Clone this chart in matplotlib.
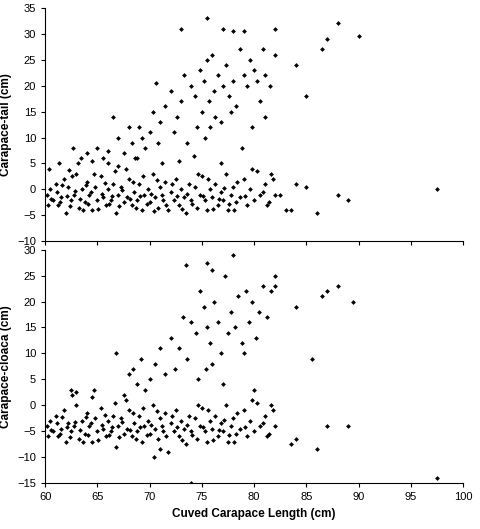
import matplotlib
matplotlib.use("Agg")
import matplotlib.pyplot as plt

plt.rcParams['font.family'] = ['Liberation Sans', 'DejaVu Sans']

# Top panel: Carapace-tail
tail_x = [60.2,60.5,60.8,61,61.2,61.5,61.8,62,62.2,62.5,62.8,63,63.2,63.5,63.8,64,64.2,64.5,64.8,65,65.3,65.5,65.8,66,66.3,66.5,66.8,67,67.3,67.5,67.8,68,68.3,68.5,68.8,69,69.3,69.5,69.8,70,70.3,70.5,70.8,71,71.3,71.5,71.8,72,72.3,72.5,72.8,73,73.3,73.5,73.8,74,74.3,74.5,74.8,75,75.3,75.5,75.8,76,76.3,76.5,76.8,77,77.3,77.5,77.8,78,78.3,78.6,79,79.3,79.6,80,80.3,80.6,81,81.4,81.8,82,
          60.3,60.6,61.1,61.4,61.6,62.1,62.4,62.6,62.9,63.3,63.6,63.9,64.1,64.4,64.7,65.1,65.4,65.7,66.1,66.4,66.7,67.1,67.4,67.7,68.1,68.4,68.7,69.1,69.4,69.7,70.1,70.4,70.7,71.2,71.6,72.1,72.6,73.1,73.6,74.1,74.6,75.1,75.6,76.1,76.6,77.1,77.6,78.1,78.4,79.1,79.8,80.8,81.2,81.6,60.4,61.3,63.4,62.3,
          62.7,63.1,64,64.5,65,65.5,66,66.5,67,67.5,68,68.3,68.6,69,69.3,69.6,70,70.3,70.6,70.8,71,71.5,72,72.3,72.6,73,73.3,73.6,74,74.3,74.5,74.8,75,75.2,75.5,75.7,76,76.2,76.5,76.8,77,77.3,77.6,78,78.3,78.6,79,79.3,79.6,80,80.3,80.6,81,81.5,82,75.3,75.8,76.3,77.8,79.8,80.8,81,66,67,68.8,71.2,72.8,74.2,76.8,78.8,
          75.5,73,77,78,79,82,88,87,90,86.5,84,85,97.5,89,88,86,83,83.5,84,85,82.5]
tail_y = [-1,0,-2,1,-3,-1.5,2,-4.5,0.5,-2,-1,3,-3.5,0,-2.5,1.5,-1,-4,0.5,-2,2.5,-1.5,-3,0,-2,1,-4.5,-1,0.5,-2.5,-1.5,2,-3,-0.5,-2,1,-4,-1,0,-2.5,3,-1.5,-3.5,0.5,-2,1.5,-4,-0.5,-2,2,-3,0,-1.5,-4.5,1,-2,0.5,-3.5,-1,2.5,-2,-4,0,-1.5,1,-3,-0.5,-2,3,-4,-1,0.5,-2.5,-1.5,2,-3,0,-2,3.5,-1,1,-2.5,2,-1,
          -3,-1.8,-0.5,-2.5,0.8,-1.2,-3.2,2.5,-0.3,-1.8,-4,0.8,-2.8,-0.5,3,-3.8,-0.8,1.2,-2.8,-1.2,3.5,-3.2,-0.2,4,-1.8,1.5,-3.5,-1.2,2.5,-2.8,-0.8,-4.2,1.8,-1,-3,1,-1.2,-3.8,-0.8,-2.8,3,-1.2,2,-3.8,-1.8,0.2,-2.8,-4,1.5,-1.2,4,-0.5,-3,3,4,5,6,3.8,
          8,5,7,5.5,8,6,7.5,14,10,7,12,9,6,12,10,8,11,15,20.5,9,13,16,19,11,14,17,22,9,20,18,12,23,15,21,25,17,26,19,22,13,20,24,18,21,16,27,22,20,25,23,21,17,22,20,26,10,12,14,15,12,27,14,5,4.5,6,5,5.5,6.5,5,8,
          33,31,31,30.5,30.5,31,32,29,29.5,27,24,18,0,-2,-1,-4.5,-4,-4,1,0.5,-1]

# Bottom panel: Carapace-cloaca
cloaca_x = [60.2,60.5,60.8,61,61.2,61.5,61.8,62,62.2,62.5,62.8,63,63.2,63.5,63.8,64,64.2,64.5,64.8,65,65.3,65.5,65.8,66,66.3,66.5,66.8,67,67.3,67.5,67.8,68,68.3,68.5,68.8,69,69.3,69.5,69.8,70,70.3,70.5,70.8,71,71.3,71.5,71.8,72,72.3,72.5,72.8,73,73.3,73.5,73.8,74,74.3,74.5,74.8,75,75.3,75.5,75.8,76,76.3,76.5,76.8,77,77.3,77.5,77.8,78,78.3,78.6,79,79.3,79.6,80,80.3,80.6,81,81.4,81.8,82,
            60.3,60.6,61.1,61.4,61.6,62.1,62.4,62.6,62.9,63.3,63.6,63.9,64.1,64.4,64.7,65.1,65.4,65.7,66.1,66.4,66.7,67.1,67.4,67.7,68.1,68.4,68.7,69.1,69.4,69.7,70.1,70.4,70.7,71.2,71.6,72.1,72.6,73.1,73.6,74.1,74.6,75.1,75.6,76.1,76.6,77.1,77.6,78.1,78.4,79.1,79.8,80.8,81.2,81.6,62.5,63,64.5,71,
            66.8,67.5,68,68.4,68.8,69.2,69.6,70,70.5,71,71.5,72,72.4,72.8,73.2,73.6,74,74.4,74.8,75.2,75.5,75.8,76.2,76.5,76.8,77.2,77.5,77.8,78.2,78.5,78.8,79.2,79.5,79.8,80.2,80.5,80.8,81.2,81.6,82,74.6,75.4,76,77,79,80,
            73.5,75.5,78,76,82,89.5,88,87,86.5,84,85.5,86,84,83.5,87,89,97.5,74]
cloaca_y = [-4,-3,-5,-2,-6,-4.5,-1,-7,-3.5,-5,-4,0,-6.5,-3,-5.5,-1.5,-4,-7,-2.5,-5,-0.5,-4.5,-6,-3,-5,-2,-8,-4,-2.5,-5.5,-4.5,-1,-6,-3.5,-5,-2,-7,-4,-3,-5.5,0,-4.5,-6.5,-2.5,-5,-1.5,-9,-3.5,-5,-1,-6,-3,-4.5,-7.5,-2,-5,-2.5,-6.5,-4,-0.5,-5,-7,-3,-4.5,-2,-6,-3.5,-5,0,-7,-4,-2.5,-5.5,-4.5,-1,-6,-3,-5,0.5,-4,-2,-5.5,-1,-4,
            -6,-4.8,-3.5,-5.5,-2.2,-4.2,-6.2,2,-3.3,-4.8,-7,-2.2,-5.8,-3.5,3,-6.8,-3.8,-1.8,-5.8,-4.2,0.5,-6.2,-3.2,1,-4.8,-1.5,-6.5,-4.2,-0.5,-5.8,-3.8,-10,-1.2,-4,-6,-2,-4.2,-6.8,-3.8,-5.8,0,-4.2,-1,-6.8,-4.8,-2.8,-5.8,-7,-1.5,-4.2,1,-3.5,-6,0,3,2.5,1.5,-8.5,
            10,2,6,7,4,9,3,5,8,11,6,13,7,11,17,9,16,14,22,19,15,12,20,16,10,25,14,18,15,21,12,22,16,20,13,18,23,17,22,23,5,7,8,4,10,3,
            27,27.5,29,26,25,20,23,22,21,19,9,-8.5,-6.5,-7.5,-4,-4,-14,-15]

fig = plt.figure(figsize=(4.8, 5.29), dpi=100)
ax1 = fig.add_axes([0.094, 0.544, 0.871, 0.441])
ax2 = fig.add_axes([0.094, 0.087, 0.871, 0.441])

for ax, xs, ys, ylo, yhi, lab in [(ax1, tail_x, tail_y, -10, 35, 'Carapace-tail (cm)'),
                                  (ax2, cloaca_x, cloaca_y, -15, 30, 'Carapace-cloaca (cm)')]:
    ax.scatter(xs, ys, marker='D', s=6, color='black', linewidths=0)
    ax.set_xlim(60, 100)
    ax.set_ylim(ylo, yhi)
    ax.set_yticks(range(ylo, yhi + 1, 5))
    ax.set_xticks(range(60, 101, 5))
    ax.spines['top'].set_visible(False)
    ax.spines['right'].set_visible(False)
    ax.tick_params(labelsize=8, direction='out', length=3)
    ax.set_ylabel(lab, fontsize=8.5, fontweight='bold')

ax1.tick_params(labelbottom=False)
ax2.set_xlabel('Cuved Carapace Length (cm)', fontsize=8.5, fontweight='bold')

fig.savefig('out.png', dpi=100)
